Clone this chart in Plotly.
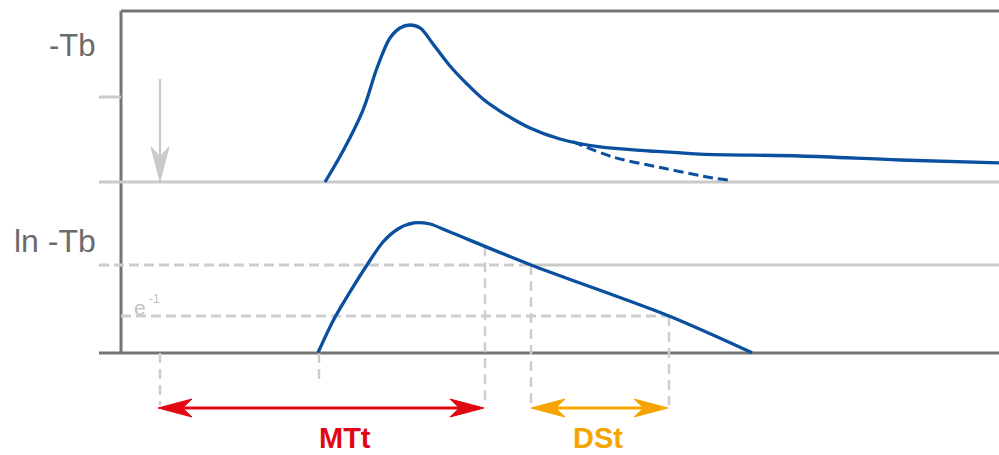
import numpy as np
import plotly.graph_objects as go

W, H = 999, 455

# ---------------- data ----------------
# Signal curve  -Tb(t)
time_signal = [20.4, 22.2, 24.2, 25.6, 26.9, 27.9, 28.9, 29.9, 31.2, 32.9, 34.6,
               36.2, 37.9, 40.9, 43.9, 47.9, 52.9, 57.9, 67.9, 77.9, 87.8]
neg_tb = [0.0, 0.365, 0.847, 1.341, 1.694, 1.812, 1.847, 1.812, 1.624, 1.365, 1.153,
          0.976, 0.835, 0.635, 0.506, 0.412, 0.365, 0.329, 0.306, 0.259, 0.224]

# First-pass (recirculation-free) extrapolation, dashed
time_first_pass = [45.2, 49.2, 54.2, 59.2, 60.7]
neg_tb_first_pass = [0.475, 0.294, 0.165, 0.047, 0.024]

# Logarithm of signal  ln -Tb(t)
time_ln = [19.7, 21.2, 22.9, 24.6, 26.2, 27.7, 29.3, 30.9, 32.9, 41.0, 54.8, 63.1]
ln_neg_tb = [-1.72, -1.098, -0.529, 0.0, 0.451, 0.706, 0.824, 0.804, 0.647, 0.0,
             -1.0, -1.72]

# Key times
t_injection = 3.9
t_arrival = 19.8
t_mtt = 36.4
t_ds_start = 41.0
t_ds_end = 54.8

# Key levels (ln panel)
ln_ref_level = 0.0
ln_e1_level = -1.0

# Labels
label_top = "-Tb"
label_bottom = "ln -Tb"
label_e = "e"
label_e_exp = "-1"
label_mtt = "MTt"
label_dst = "DSt"

# ---------------- styling ----------------
BLUE = "#0b4f9f"
DARK = "#747474"
LIGHT = "#cacaca"
DASHC = "#cdcdcd"
RED = "#e30613"
ORANGE = "#f6a500"
TXT = "#6b6b6b"
FONT = "Liberation Sans, Arial, sans-serif"

# axis scales (pixels per data unit) and ranges
SX = 10.0
X0 = -12.1
X1 = X0 + W / SX
SV = 85.0
V1 = 182.0 / SV
V0 = V1 - H / SV
SU = 51.0
U1 = 265.0 / SU
U0 = U1 - H / SU


def t_at(px):
    return X0 + px / SX


def v_at(py):
    return V1 - py / SV


def u_at(py):
    return U1 - py / SU


fig = go.Figure()

# curves
fig.add_trace(go.Scatter(x=time_signal, y=neg_tb, mode="lines",
                         line=dict(color=BLUE, width=3.3, shape="spline", smoothing=1.0),
                         yaxis="y", hoverinfo="skip"))
fig.add_trace(go.Scatter(x=time_first_pass, y=neg_tb_first_pass, mode="lines",
                         line=dict(color=BLUE, width=3, dash="10px,5px", shape="spline"),
                         yaxis="y", hoverinfo="skip"))
fig.add_trace(go.Scatter(x=time_ln, y=ln_neg_tb, mode="lines",
                         line=dict(color=BLUE, width=3.3, shape="spline", smoothing=0.8),
                         yaxis="y2", hoverinfo="skip"))

shapes = []


def seg(x0, y0, x1, y1, color, width, yref="y", dash=None):
    line = dict(color=color, width=width)
    if dash:
        line["dash"] = dash
    shapes.append(dict(type="line", xref="x", yref=yref, x0=x0, y0=y0, x1=x1, y1=y1,
                       line=line, layer="below"))


t_left = t_at(99)
t_axis = 0.0
# frame
seg(t_axis, v_at(11), X1, v_at(11), DARK, 3)
seg(t_axis, v_at(11), t_axis, v_at(353), DARK, 3)
# top panel baseline and tick
seg(t_left, 0.0, X1, 0.0, LIGHT, 3)
seg(t_left, 1.0, t_axis, 1.0, LIGHT, 3)
# ln panel reference level: dashed then solid
seg(t_left, ln_ref_level, t_ds_start, ln_ref_level, DASHC, 3, "y2", "10px,5px")
seg(t_ds_start, ln_ref_level, X1, ln_ref_level, LIGHT, 3, "y2")
# e^-1 level
seg(t_axis, ln_e1_level, t_ds_end, ln_e1_level, DASHC, 3, "y2", "10px,5px")
# bottom axis
seg(t_left, u_at(353), X1, u_at(353), DARK, 3, "y2")

# vertical dashed drops
u_base = u_at(353)
u_drop = u_at(405)
mtt_u = float(np.interp(t_mtt, time_ln, ln_neg_tb))
seg(t_injection, u_base, t_injection, u_drop, DASHC, 2.5, "y2", "10px,6px")
seg(t_arrival, u_base, t_arrival, u_at(385), DASHC, 2.5, "y2", "10px,6px")
seg(t_mtt, mtt_u, t_mtt, u_drop, DASHC, 2.5, "y2", "10px,6px")
seg(t_ds_start, ln_ref_level, t_ds_start, u_drop, DASHC, 2.5, "y2", "10px,6px")
seg(t_ds_end, ln_e1_level, t_ds_end, u_drop, DASHC, 2.5, "y2", "10px,6px")


# arrows (shaft + stealth heads as filled polygons)
def add_head(tip_x, tip_y, dirx, diry, sy, yaxis, color, length=34, width=18, notch=0.72):
    nx, ny = -diry, dirx
    pts_px = [(0, 0),
              (-length * dirx + width / 2 * nx, -length * diry + width / 2 * ny),
              (-notch * length * dirx, -notch * length * diry),
              (-length * dirx - width / 2 * nx, -length * diry - width / 2 * ny),
              (0, 0)]
    xs = [tip_x + p[0] / SX for p in pts_px]
    ys = [tip_y - p[1] / sy for p in pts_px]
    fig.add_trace(go.Scatter(x=xs, y=ys, mode="lines", fill="toself", fillcolor=color,
                             line=dict(color=color, width=1), yaxis=yaxis, hoverinfo="skip"))
    return notch * length


def h_arrow(xa, xb, y, color, width=3.2):
    n = add_head(xa, y, -1, 0, SU, "y2", color)
    add_head(xb, y, 1, 0, SU, "y2", color)
    fig.add_trace(go.Scatter(x=[xa + n / SX, xb - n / SX], y=[y, y], mode="lines",
                             line=dict(color=color, width=width), yaxis="y2", hoverinfo="skip"))


row = u_at(408)
h_arrow(t_injection - 0.2, t_mtt - 0.1, row, RED)
h_arrow(t_ds_start, t_ds_end - 0.1, row, ORANGE)

# gray injection arrow (top panel)
GRAY_ARROW = "#c9c9cb"
gtip = v_at(181)
n = add_head(t_injection, gtip, 0, 1, SV, "y", GRAY_ARROW, length=34, width=18)
fig.add_trace(go.Scatter(x=[t_injection, t_injection], y=[v_at(79), gtip + n / SV],
                         mode="lines", line=dict(color=GRAY_ARROW, width=2.3),
                         yaxis="y", hoverinfo="skip"))

# text labels
ann = [
    dict(text=label_top, x=97 / W, y=1 - 46 / H, xanchor="right", yanchor="middle",
         font=dict(size=31, color=TXT, family=FONT)),
    dict(text=label_bottom, x=97 / W, y=1 - 241 / H, xanchor="right", yanchor="middle",
         font=dict(size=32, color=TXT, family=FONT)),
    dict(text=label_e, x=133 / W, y=1 - 307 / H, xanchor="left", yanchor="middle",
         font=dict(size=21, color="#c2c2c2", family=FONT)),
    dict(text=label_e_exp, x=148 / W, y=1 - 299 / H, xanchor="left", yanchor="middle",
         font=dict(size=12, color="#c2c2c2", family=FONT)),
    dict(text="<b>%s</b>" % label_mtt, x=345 / W, y=0.001, xanchor="center", yanchor="bottom",
         font=dict(size=29, color=RED, family=FONT)),
    dict(text="<b>%s</b>" % label_dst, x=598 / W, y=0.001, xanchor="center", yanchor="bottom",
         font=dict(size=29, color=ORANGE, family=FONT)),
]
for a in ann:
    a.update(xref="paper", yref="paper", showarrow=False, borderpad=0)

fig.update_layout(
    width=W, height=H, margin=dict(l=0, r=0, t=0, b=0, pad=0),
    paper_bgcolor="white", plot_bgcolor="white", showlegend=False,
    xaxis=dict(range=[X0, X1], visible=False, domain=[0, 1], fixedrange=True),
    yaxis=dict(range=[V0, V1], visible=False, domain=[0, 1], fixedrange=True),
    yaxis2=dict(range=[U0, U1], visible=False, overlaying="y", fixedrange=True),
    shapes=shapes, annotations=ann, hovermode=False,
)

fig.write_html("out.html", config={"displayModeBar": False})
